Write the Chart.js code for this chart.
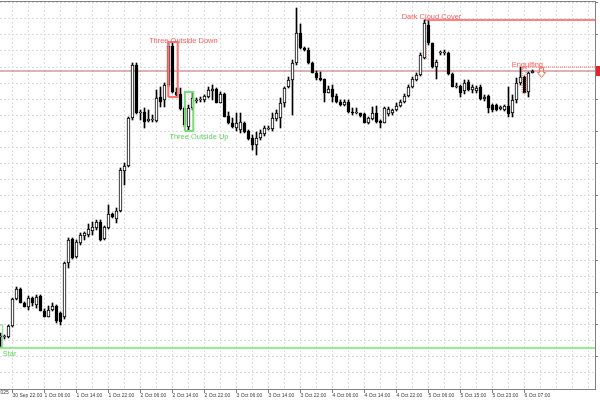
<!DOCTYPE html>
<html>
<head>
<meta charset="utf-8">
<script src="https://cdn.jsdelivr.net/npm/chart.js@4"></script>
<style>
  html, body { margin: 0; padding: 0; background: #fff; }
</style>
</head>
<body>
<canvas id="chart" width="600" height="400"></canvas>
<script>
// Hourly candles (arbitrary price units)
const opens = [52,52,52,63,90,100,86,82,91,84,93,78,72,79,83,76,72,126,150,132,
  146,153,154,158,161,167,150,161,175,170,178,218,223,271,324,276,277,268,269,268,
  292,289,304,343,297,295,281,262,281,288,289,289,292,298,300,286,295,273,266,261,
  259,266,258,251,244,251,255,260,260,270,271,286,302,309,326,356,341,339,326,316,
  311,310,296,300,293,287,284,287,277,276,276,275,266,270,276,268,266,275,276,279,
  283,287,293,302,309,314,331,364,346,322,336,336,336,315,302,303,298,307,299,298,
  302,290,293,284,284,280,279,283,276,289,306,312,297,316];
const highs = [56,54,64,91,102,101,87,93,92,94,94,80,83,86,84,77,127,151,151,149,
  156,157,165,167,169,169,163,184,176,181,221,226,272,326,326,279,281,279,274,299,
  302,306,346,346,301,301,282,284,296,291,292,294,302,304,301,297,296,277,271,276,
  276,267,259,254,257,259,263,263,276,279,291,302,312,329,381,365,342,341,327,318,
  317,310,303,304,295,289,289,289,281,281,276,276,272,282,283,269,282,282,280,286,
  289,295,304,312,316,336,369,368,346,329,338,339,337,316,306,304,309,309,304,303,
  304,294,294,285,285,283,284,302,294,311,322,313,317,319];
const lows = [42,50,51,62,89,86,82,79,83,81,78,72,72,78,66,64,70,121,130,131,
  144,149,152,154,159,148,149,160,171,166,177,204,222,269,275,269,261,267,267,267,
  282,282,302,296,293,279,262,259,279,286,287,287,291,289,286,286,272,265,261,258,
  256,256,249,239,234,249,253,259,258,268,261,282,301,274,324,340,338,325,316,309,
  308,287,296,287,286,283,283,276,274,275,272,266,265,269,266,261,266,273,274,278,
  282,286,292,301,308,313,330,344,321,310,334,334,314,302,301,292,295,298,296,296,
  289,288,276,277,278,279,278,272,272,286,304,296,292,316];
const closes = [52,53,63,90,100,86,82,91,86,92,78,72,79,83,68,67,126,149,131,147,
  154,156,160,162,167,149,162,175,172,178,219,223,271,324,276,277,267,270,269,291,
  287,304,343,297,294,280,264,281,291,289,290,293,299,300,286,295,272,266,262,266,
  267,257,250,244,251,256,261,261,271,276,286,301,309,326,356,341,339,326,316,311,
  309,296,300,292,287,284,287,277,276,276,273,266,271,276,267,266,281,280,279,283,
  287,293,302,310,314,334,366,346,322,327,336,336,315,302,303,296,306,299,302,301,
  290,292,281,279,279,282,283,275,289,306,312,296,316,318];

// time axis: one label every 8 bars, the first one starts left of the view
const timeLabels = ['30 Sep 2025', '30 Sep 22:00', '1 Oct 06:00', '1 Oct 14:00', '1 Oct 22:00',
  '2 Oct 06:00', '2 Oct 14:00', '2 Oct 22:00', '3 Oct 06:00', '3 Oct 14:00', '3 Oct 22:00',
  '4 Oct 06:00', '4 Oct 14:00', '4 Oct 22:00', '5 Oct 06:00', '5 Oct 15:00', '5 Oct 23:00',
  '6 Oct 07:00'];
const firstLabelBar = -5;
const barsPerLabel = 8;
const barsPerGrid = 4;

// visible window (4px per bar) and price range
const viewStart = -0.125, viewEnd = 148.625;
const priceMin = 0, priceMax = 387, priceStep = 16.1;

// pattern levels
const starLevel = 41;
const darkCloudBar = 106;
const engulfBar = 130;

const RED = '#ff5a5a';
const GREEN = '#5fd35f';
const AXIS_FONT = '5px "Liberation Sans", Arial, sans-serif';

const bars = closes.map((_, i) => i);
const wicks = bars.map(i => ({x: i, y: [lows[i], highs[i]]}));
const bodies = bars.map(i => ({x: i, y: [Math.min(opens[i], closes[i]), Math.max(opens[i], closes[i])]}));
const bodyColors = bars.map(i => closes[i] >= opens[i] ? '#ffffff' : '#000000');

function hLine(x0, x1, v) {
    return [{x: x0, y: v}, {x: x1, y: v}];
}

function box(x0, x1, v0, v1) {
    return [{x: x0, y: v0}, {x: x1, y: v0}, {x: x1, y: v1}, {x: x0, y: v1}, {x: x0, y: v0}];
}

function patternBox(first, last, x0, x1) {
    const lo = Math.min(...lows.slice(first, last + 1)) - 1;
    const hi = Math.max(...highs.slice(first, last + 1)) + 1;
    return box(x0, x1, lo, hi);
}

function lineSet(data, color, width, dash, order) {
    return {
        type: 'line', data: data, borderColor: color, borderWidth: width,
        borderDash: dash || [], pointRadius: 0, fill: false, tension: 0, order: order
    };
}

const lastPrice = closes[closes.length - 1];
const darkCloudLevel = highs[darkCloudBar];
const engulfLevel = highs[engulfBar];

const patternLabels = [
    {text: 'Three Outside Down', bar: 37.1, level: 346, color: RED},
    {text: 'Three Outside Up', bar: 42.2, level: 250, color: GREEN},
    {text: 'Dark Cloud Cover', bar: 100.3, level: 370, color: RED},
    {text: 'Engulfing', bar: 127.8, level: 322, color: RED},
    {text: 'Star', bar: 0.55, level: 33, color: GREEN}
];

// x ticks: grid every 4 bars, labels every 8 (only those inside the view)
const tickBars = [];
for (let b = firstLabelBar + barsPerLabel; b <= viewEnd; b += barsPerGrid) tickBars.push(b);
const priceLevels = [];
for (let k = 0; k * priceStep <= priceMax; k++) priceLevels.push(k * priceStep);

function labelForBar(bar) {
    const k = (bar - firstLabelBar) / barsPerLabel;
    return Number.isInteger(k) && k < timeLabels.length ? timeLabels[k] : '';
}

const overlay = {
    id: 'overlay',
    afterDatasetsDraw(chart) {
        const {ctx, scales: {x, y}} = chart;
        ctx.save();
        // pattern names
        ctx.font = '7.5px "Liberation Sans", Arial, sans-serif';
        ctx.textBaseline = 'alphabetic';
        patternLabels.forEach(p => {
            ctx.fillStyle = p.color;
            ctx.fillText(p.text, x.getPixelForValue(p.bar), y.getPixelForValue(p.level));
        });
        // sell arrow next to the engulfing pattern
        const ax = Math.round(x.getPixelForValue(engulfBar + 5)) + 0.5;
        const ay = Math.round(y.getPixelForValue(engulfLevel)) + 0.5;
        ctx.strokeStyle = '#ff6e50';
        ctx.lineWidth = 1;
        ctx.beginPath();
        ctx.moveTo(ax - 2, ay);
        ctx.lineTo(ax + 2, ay);
        ctx.lineTo(ax + 2, ay + 5);
        ctx.lineTo(ax + 4, ay + 5);
        ctx.lineTo(ax, ay + 10);
        ctx.lineTo(ax - 4, ay + 5);
        ctx.lineTo(ax - 2, ay + 5);
        ctx.closePath();
        ctx.stroke();
        // price tag on the right axis
        const py = y.getPixelForValue(lastPrice);
        ctx.fillStyle = '#e02828';
        ctx.fillRect(x.right + 1, py - 5, 10, 10);
        // top frame
        ctx.strokeStyle = '#808080';
        ctx.beginPath();
        ctx.moveTo(0, 1.5);
        ctx.lineTo(x.right + 1, 1.5);
        ctx.stroke();
        ctx.restore();
    },
    afterDraw(chart) {
        // first date label, cut by the left edge
        const {ctx, scales: {x}} = chart;
        const tx = x.getPixelForValue(firstLabelBar);
        const sample = x._labelItems && x._labelItems.find(it => it.label);
        ctx.save();
        ctx.font = AXIS_FONT;
        ctx.fillStyle = '#3c3c3c';
        ctx.textAlign = 'left';
        ctx.textBaseline = sample ? sample.options.textBaseline : 'top';
        ctx.fillText(timeLabels[0], tx, sample ? sample.options.translation[1] : x.top + 4);
        ctx.restore();
    }
};

new Chart(document.getElementById('chart'), {
    type: 'bar',
    data: {
        datasets: [
            {
                type: 'bar', data: bodies, backgroundColor: bodyColors, borderColor: '#000000',
                borderWidth: 1, borderSkipped: false, barThickness: 3, minBarLength: 1,
                grouped: false, order: 1
            },
            {
                type: 'bar', data: wicks, backgroundColor: '#000000', borderWidth: 0,
                barThickness: 1, grouped: false, order: 2
            },
            lineSet(hLine(viewStart, viewEnd, lastPrice), '#bf6464', 1, null, 3),
            lineSet(hLine(viewStart, viewEnd, starLevel), '#90ee90', 2, null, 3),
            lineSet(hLine(darkCloudBar, viewEnd, darkCloudLevel), '#ff8080', 2, null, 3),
            lineSet(hLine(engulfBar + 0.4, viewEnd, engulfLevel), RED, 1, [1, 1], 3),
            lineSet(box(engulfBar + 0.4, engulfBar + 1.4, lows[engulfBar + 1], engulfLevel), RED, 1, [1, 1], 0),
            lineSet([{x: darkCloudBar + 0.4, y: lows[darkCloudBar]}, {x: darkCloudBar + 0.4, y: closes[darkCloudBar + 1]}], RED, 1, [1, 1], 0),
            lineSet(patternBox(42, 44, 41.95, 44.3), '#ff7070', 2, null, 0),
            lineSet(patternBox(46, 48, 46.1, 48.2), '#77dd77', 2, null, 0),
            lineSet(box(-3, 0.55, lows[0], highs[2]), '#77dd77', 1, null, 0)
        ]
    },
    options: {
        responsive: false,
        animation: false,
        devicePixelRatio: 1,
        events: [],
        layout: { padding: { top: 2, left: 0, right: 0, bottom: 0 }, autoPadding: false },
        plugins: {
            legend: { display: false },
            tooltip: { enabled: false }
        },
        scales: {
            x: {
                type: 'linear',
                bounds: 'data',
                offset: false,
                min: viewStart,
                max: viewEnd,
                afterBuildTicks: s => {
                    s.ticks = tickBars.map(v => ({value: v}));
                    s.min = viewStart;
                    s.max = viewEnd;
                },
                afterFit: s => { s.height = 11; },
                grid: {
                    offset: false,
                    color: '#dcdcdc',
                    lineWidth: 1,
                    tickLength: 4,
                    tickWidth: 1,
                    tickColor: c => (c.tick && labelForBar(c.tick.value) !== '') ? '#808080' : 'rgba(0,0,0,0)'
                },
                border: { color: '#808080', width: 1, dash: [2, 2] },
                ticks: {
                    autoSkip: false,
                    maxRotation: 0,
                    minRotation: 0,
                    align: 'start',
                    padding: 0,
                    color: '#3c3c3c',
                    font: { family: '"Liberation Sans", Arial, sans-serif', size: 5 },
                    callback: v => labelForBar(v)
                }
            },
            y: {
                position: 'right',
                min: priceMin,
                max: priceMax,
                afterBuildTicks: s => {
                    s.ticks = priceLevels.map(v => ({value: v}));
                    s.min = priceMin;
                    s.max = priceMax;
                },
                afterFit: s => { s.width = 5; },
                grid: {
                    color: '#dcdcdc',
                    lineWidth: 1,
                    tickLength: 3,
                    tickWidth: 1,
                    tickColor: c => (c.index > 0 && c.index % 2 === 0) ? '#808080' : 'rgba(0,0,0,0)'
                },
                border: { color: '#808080', width: 1, dash: [2, 2] },
                ticks: { display: false }
            }
        }
    },
    plugins: [overlay]
});
</script>
</body>
</html>
